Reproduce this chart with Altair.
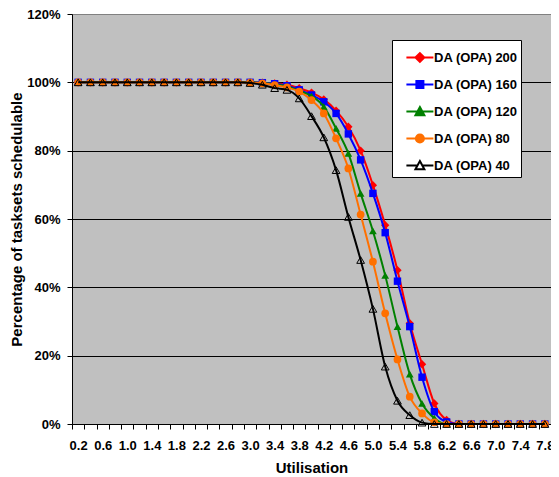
import altair as alt
import pandas as pd

# ---------------- data ----------------
util = [0.2, 0.4, 0.6, 0.8, 1.0, 1.2, 1.4, 1.6, 1.8, 2.0,
        2.2, 2.4, 2.6, 2.8, 3.0, 3.2, 3.4, 3.6, 3.8, 4.0,
        4.2, 4.4, 4.6, 4.8, 5.0, 5.2, 5.4, 5.6, 5.8, 6.0,
        6.2, 6.4, 6.6, 6.8, 7.0, 7.2, 7.4, 7.6, 7.8]

series_names = ["DA (OPA) 200", "DA (OPA) 160", "DA (OPA) 120", "DA (OPA) 80", "DA (OPA) 40"]

v200 = [100, 100, 100, 100, 100, 100, 100, 100, 100, 100,
        100, 100, 100, 100, 100, 99.9, 99.7, 99.3, 98.3, 97.0,
        95.0, 91.7, 87.0, 80.0, 69.9, 58.2, 45.0, 29.5, 17.5, 6.0,
        1.2, 0, 0, 0, 0, 0, 0, 0, 0]
v160 = [100, 100, 100, 100, 100, 100, 100, 100, 100, 100,
        100, 100, 100, 100, 100, 99.9, 99.6, 99.0, 97.8, 96.3,
        94.3, 90.9, 84.9, 77.3, 67.5, 56.0, 41.8, 28.5, 13.7, 3.6,
        0.6, 0, 0, 0, 0, 0, 0, 0, 0]
v120 = [100, 100, 100, 100, 100, 100, 100, 100, 100, 100,
        100, 100, 100, 100, 100, 99.8, 99.4, 98.8, 97.5, 96.0,
        92.9, 86.5, 79.2, 67.5, 56.5, 43.5, 28.5, 14.6, 6.0, 1.7,
        0, 0, 0, 0, 0, 0, 0, 0, 0]
v80 = [100, 100, 100, 100, 100, 100, 100, 100, 100, 100,
       100, 100, 100, 100, 99.9, 99.7, 99.2, 98.5, 97.3, 94.8,
       90.9, 83.6, 74.8, 61.3, 47.5, 32.4, 18.9, 8.0, 3.1, 0.5,
       0, 0, 0, 0, 0, 0, 0, 0, 0]
v40 = [100, 100, 100, 100, 100, 100, 100, 100, 100, 100,
       100, 100, 100, 100, 99.8, 99.3, 98.3, 97.8, 95.3, 90.1,
       83.9, 74.3, 60.6, 48.0, 33.7, 16.8, 6.8, 2.6, 0.4, 0,
       0, 0, 0, 0, 0, 0, 0, 0, 0]

y_tick_values = [0, 20, 40, 60, 80, 100, 120]
x_label_values = [0.2, 0.6, 1.0, 1.4, 1.8, 2.2, 2.6, 3.0, 3.4, 3.8,
                  4.2, 4.6, 5.0, 5.4, 5.8, 6.2, 6.6, 7.0, 7.4, 7.8]

# ---------------- table ----------------
all_values = [v200, v160, v120, v80, v40]
rows = []
for name, vals in zip(series_names, all_values):
    for u, p in zip(util, vals):
        rows.append({"util": u, "pct": p, "series": name})
df = pd.DataFrame(rows)

# tick boundaries between categories (Excel style), labels at category centres
step = util[1] - util[0]
boundaries = [round(util[0] - step / 2, 1)] + [round((a + b) / 2, 1) for a, b in zip(util[:-1], util[1:])] + [round(util[-1] + step / 2, 1)]
x_axis_values = sorted(set(boundaries) | set(x_label_values))

FONT = "Liberation Sans"

x_axis = alt.Axis(
    values=x_axis_values,
    title="Utilisation",
    titleFont=FONT, titleFontSize=15, titleFontWeight="bold", titleColor="black",
    titlePadding=8,
    labelFont=FONT, labelFontSize=13, labelFontWeight="bold", labelColor="black",
    labelExpr="round(datum.value*10) % 4 == 2 ? format(datum.value, '.1f') : ''",
    labelOverlap=False, labelPadding=10, labelFlush=False,
    tickSize=5, tickColor="black",
    tickOpacity=alt.condition("round(datum.value*10) % 2 == 1", alt.value(1), alt.value(0)),
    domainColor="black", domainWidth=1,
    grid=False,
)

y_axis = alt.Axis(
    values=y_tick_values,
    title="Percentage of tasksets schedulable",
    titleFont=FONT, titleFontSize=15, titleFontWeight="bold", titleColor="black",
    titlePadding=2,
    labelFont=FONT, labelFontSize=13, labelFontWeight="bold", labelColor="black",
    labelExpr="datum.value + '%'", labelPadding=7,
    tickSize=5, tickColor="black",
    domainColor="black", domainWidth=1,
    grid=True,
    gridColor=alt.condition("datum.value >= 120", alt.value("#808080"), alt.value("black")),
    gridWidth=1,
)

x_enc = alt.X("util:Q", scale=alt.Scale(domain=[0.1, 7.9], nice=False, zero=False), axis=x_axis)
y_enc = alt.Y("pct:Q", scale=alt.Scale(domain=[0, 120], nice=False, zero=True), axis=y_axis)

colors = ["#ff0000", "#0000ff", "#008000", "#ff7000", "#000000"]
shapes = ["diamond", "square", "triangle-up", "circle", "triangle-up"]
filled = [True, True, True, True, False]
sizes = [70, 55, 60, 60, 60]

# legend symbol paths: short line with marker (custom SVG paths)
legend_paths = [
    "M-0.23,0H1.77M0.44,0L0.77,-0.33L1.1,0L0.77,0.33Z",
    "M-0.23,0H1.77M0.51,-0.26H1.03V0.26H0.51Z",
    "M-0.23,0H1.77M0.77,-0.33L1.1,0.27H0.44Z",
    "M-0.23,0H1.77M1.07,0A0.3,0.3 0 1,1 0.47,0A0.3,0.3 0 1,1 1.07,0Z",
    "M-0.23,0H0.59M0.95,0H1.77M0.77,-0.33L1.1,0.27H0.44Z",
]
legend_fills = ["#ff0000", "#0000ff", "#008000", "#ff7000", "#ffffff"]

base = alt.Chart(df)
layers = []
for name, col, shp, fl, sz in zip(series_names, colors, shapes, filled, sizes):
    sub = base.transform_filter(alt.datum.series == name)
    layers.append(sub.mark_line(color=col, strokeWidth=2, interpolate="monotone").encode(x=x_enc, y=y_enc))
    if fl:
        pt = sub.mark_point(shape=shp, filled=True, color=col, size=sz, opacity=1)
    else:
        pt = sub.mark_point(shape=shp, filled=False, color=col, size=sz, strokeWidth=1, opacity=1)
    layers.append(pt.encode(x=x_enc, y=y_enc))

leg = alt.Legend(
    title=None, orient="none", legendX=320, legendY=26,
    fillColor="white", strokeColor="black", padding=3, rowPadding=4,
    labelFont=FONT, labelFontSize=13, labelFontWeight="bold", labelColor="black",
    labelOffset=10, labelExpr="datum.label + '       '",
    symbolSize=729, symbolStrokeWidth=2,
)

legend_layer = base.transform_filter("false").mark_point(
    filled=True, size=729, strokeWidth=2, opacity=1
).encode(
    x=x_enc, y=y_enc,
    shape=alt.Shape("series:N", scale=alt.Scale(domain=series_names, range=legend_paths), legend=leg),
    fill=alt.Fill("series:N", scale=alt.Scale(domain=series_names, range=legend_fills), legend=leg),
    stroke=alt.Stroke("series:N", scale=alt.Scale(domain=series_names, range=colors), legend=leg),
)

chart = alt.layer(*layers, legend_layer).properties(
    width=479, height=410,
    autosize=alt.AutoSizeParams(type="none"),
    padding={"left": 64, "top": 6, "right": 0, "bottom": 54},
    background="white",
).configure(
    font=FONT
).configure_view(
    fill="#c0c0c0", stroke="#808080", strokeWidth=1
)

chart.save("out.html", embed_options={"renderer": "svg", "actions": False})
